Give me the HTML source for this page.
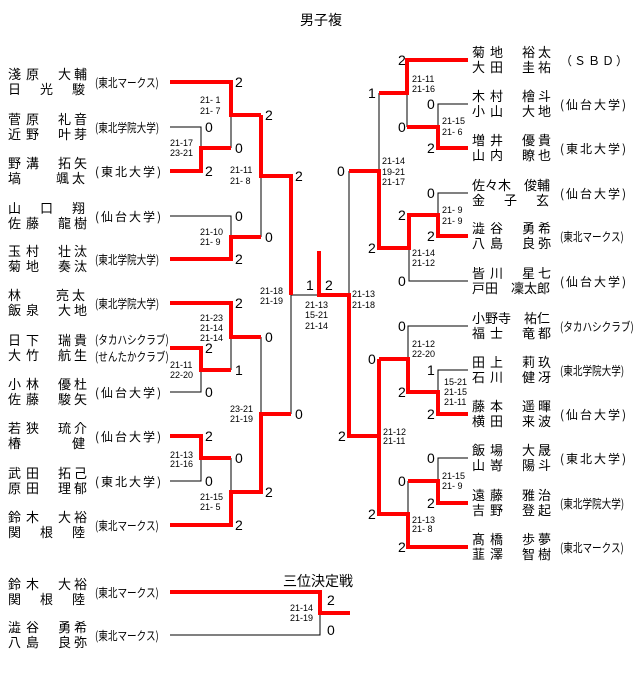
<!DOCTYPE html>
<html><head><meta charset="utf-8"><style>
body{margin:0;background:#fff;width:640px;height:697px;overflow:hidden;position:relative;font-family:"Liberation Sans","Noto Sans CJK JP",sans-serif;}
.n{position:absolute;font-size:13px;line-height:15px;letter-spacing:3px;white-space:pre;color:#000;font-family:"Noto Sans CJK JP",sans-serif;}
.n>b,.n span>b{font-weight:normal;margin-right:2px;}
.t{position:absolute;font-size:12px;line-height:13px;white-space:pre;color:#000;transform-origin:0 50%;font-family:"Noto Sans CJK JP",sans-serif;}
.s{transform:scaleX(.8);font-size:12px;}
.w{letter-spacing:2px;font-size:12px;}
svg{position:absolute;left:0;top:0;}
</style></head><body>
<svg width="640" height="697" xmlns="http://www.w3.org/2000/svg">
<g fill="none" stroke="#000" stroke-width="1">
<polyline points="170,127 201,127 201,148"/>
<polyline points="231,115 231,148"/>
<polyline points="170,216 231,216 231,237"/>
<polyline points="261,176 261,237"/>
<polyline points="291,295 319,295"/>
<polyline points="349,171 349,295"/>
<polyline points="291,295 291,414"/>
<polyline points="231,337 231,370"/>
<polyline points="201,370 201,392 170,392"/>
<polyline points="261,337 261,414"/>
<polyline points="231,458 231,492"/>
<polyline points="201,458 201,481 170,481"/>
<polyline points="407,93 407,127"/>
<polyline points="468,104 438,104 438,127"/>
<polyline points="379,93 379,171"/>
<polyline points="468,193 438,193 438,215"/>
<polyline points="409,248 409,281 468,281"/>
<polyline points="468,326 408,326 408,359"/>
<polyline points="468,370 438,370 438,392"/>
<polyline points="408,481 408,514"/>
<polyline points="468,458 438,458 438,481"/>
<polyline points="170,635 320,635 320,613"/>
</g>
<g fill="none" stroke="#f00" stroke-width="4" stroke-linejoin="miter">
<polyline points="170,171 201,171 201,148 231,148"/>
<polyline points="170,82 231,82 231,115 261,115"/>
<polyline points="170,259 231,259 231,237 261,237"/>
<polyline points="261,115 261,176 291,176 291,295"/>
<polyline points="319,251 319,295 349,295 349,436 379,436"/>
<polyline points="170,303 231,303 231,337 261,337"/>
<polyline points="170,348 201,348 201,370 231,370"/>
<polyline points="291,414 261,414 261,492 231,492 231,525 170,525"/>
<polyline points="170,436 201,436 201,458 231,458"/>
<polyline points="468,60 407,60 407,93 379,93"/>
<polyline points="468,148 438,148 438,127 407,127"/>
<polyline points="349,171 379,171 379,248 409,248 409,215 438,215 438,236 468,236"/>
<polyline points="379,359 408,359 408,392 438,392 438,414 468,414"/>
<polyline points="379,359 379,514 408,514 408,547 468,547"/>
<polyline points="408,481 438,481 438,503 468,503"/>
<polyline points="170,592 320,592 320,613 350,613"/>
</g>
<g font-family="Liberation Sans, sans-serif" font-size="14" fill="#000">
<text x="235" y="87">2</text><text x="205" y="132">0</text><text x="205" y="176">2</text><text x="235" y="153">0</text>
<text x="265" y="120">2</text><text x="235" y="221">0</text><text x="235" y="264">2</text><text x="265" y="242">0</text>
<text x="295" y="181">2</text><text x="306" y="290">1</text><text x="325" y="290">2</text>
<text x="235" y="308">2</text><text x="265" y="342">0</text><text x="205" y="353">2</text><text x="235" y="375">1</text>
<text x="205" y="397">0</text><text x="295" y="419">0</text><text x="205" y="441">2</text><text x="235" y="463">0</text>
<text x="205" y="486">0</text><text x="265" y="497">2</text><text x="235" y="530">2</text>
<text x="398" y="65">2</text><text x="368" y="98">1</text><text x="427" y="109">0</text><text x="398" y="132">0</text>
<text x="427" y="153">2</text><text x="337" y="176">0</text><text x="427" y="198">0</text><text x="398" y="220">2</text>
<text x="427" y="241">2</text><text x="368" y="253">2</text><text x="398" y="286">0</text>
<text x="398" y="331">0</text><text x="368" y="364">0</text><text x="427" y="375">1</text><text x="398" y="397">2</text>
<text x="427" y="419">2</text><text x="338" y="441">2</text><text x="427" y="463">0</text><text x="398" y="486">0</text>
<text x="427" y="508">2</text><text x="368" y="519">2</text><text x="398" y="552">2</text>
<text x="327" y="605">2</text><text x="327" y="635">0</text>
</g>
<g font-family="Liberation Sans, sans-serif" font-size="9" fill="#000" xml:space="preserve">
<text x="200" y="103">21- 1</text><text x="200" y="114">21- 7</text>
<text x="170" y="146">21-17</text><text x="170" y="156">23-21</text>
<text x="230" y="173">21-11</text><text x="230" y="184">21- 8</text>
<text x="200" y="235">21-10</text><text x="200" y="245">21- 9</text>
<text x="260" y="294">21-18</text><text x="260" y="304">21-19</text>
<text x="305" y="308">21-13</text><text x="305" y="318">15-21</text><text x="305" y="329">21-14</text>
<text x="200" y="321">21-23</text><text x="200" y="331">21-14</text><text x="200" y="341">21-14</text>
<text x="170" y="368">21-11</text><text x="170" y="378">22-20</text>
<text x="230" y="412">23-21</text><text x="230" y="422">21-19</text>
<text x="170" y="458">21-13</text><text x="170" y="467">21-16</text>
<text x="200" y="500">21-15</text><text x="200" y="510">21- 5</text>
<text x="412" y="82">21-11</text><text x="412" y="92">21-16</text>
<text x="442" y="124">21-15</text><text x="442" y="135">21- 6</text>
<text x="382" y="164">21-14</text><text x="382" y="175">19-21</text><text x="382" y="185">21-17</text>
<text x="442" y="213">21- 9</text><text x="442" y="224">21- 9</text>
<text x="412" y="256">21-14</text><text x="412" y="266">21-12</text>
<text x="352" y="297">21-13</text><text x="352" y="308">21-18</text>
<text x="412" y="347">21-12</text><text x="412" y="357">22-20</text>
<text x="444" y="385">15-21</text><text x="444" y="395">21-15</text><text x="444" y="405">21-11</text>
<text x="383" y="435">21-12</text><text x="383" y="444">21-11</text>
<text x="442" y="479">21-15</text><text x="442" y="489">21- 9</text>
<text x="412" y="523">21-13</text><text x="412" y="532">21- 8</text>
<text x="290" y="611">21-14</text><text x="290" y="621">21-19</text>
</g>
<text x="300" y="25" font-family="Liberation Sans, Noto Sans CJK JP, sans-serif" font-size="14">男子複</text>
<text x="283" y="586" font-family="Liberation Sans, Noto Sans CJK JP, sans-serif" font-size="14">三位決定戦</text>
</svg>

<div class="n" style="left:8px;top:66px"><b>淺</b>原　大輔<br>日　光　駿</div><div class="t s" style="left:95px;top:76px">(東北マークス)</div>
<div class="n" style="left:8px;top:111px"><b>菅</b>原　礼音<br><b>近</b>野　叶芽</div><div class="t s" style="left:95px;top:121px">(東北学院大学)</div>
<div class="n" style="left:8px;top:155px"><b>野</b>溝　拓矢<br>塙　　颯太</div><div class="t w" style="left:95px;top:165px">(東北大学)</div>
<div class="n" style="left:8px;top:200px">山　口　翔<br><b>佐</b>藤　龍樹</div><div class="t w" style="left:95px;top:210px">(仙台大学)</div>
<div class="n" style="left:8px;top:243px"><b>玉</b>村　壮汰<br><b>菊</b>地　奏汰</div><div class="t s" style="left:95px;top:253px">(東北学院大学)</div>
<div class="n" style="left:8px;top:287px">林　　亮太<br><b>飯</b>泉　大地</div><div class="t s" style="left:95px;top:297px">(東北学院大学)</div>
<div class="n" style="left:8px;top:332px"><b>日</b>下　瑞貴<br><b>大</b>竹　航生</div><div class="t s" style="left:95px;top:333px">(タカハシクラブ)</div><div class="t s" style="left:95px;top:350px">(せんたかクラブ)</div>
<div class="n" style="left:8px;top:376px"><b>小</b>林　優杜<br><b>佐</b>藤　駿矢</div><div class="t w" style="left:95px;top:386px">(仙台大学)</div>
<div class="n" style="left:8px;top:420px"><b>若</b>狭　琉介<br>椿　　　健</div><div class="t w" style="left:95px;top:430px">(仙台大学)</div>
<div class="n" style="left:8px;top:465px"><b>武</b>田　拓己<br><b>原</b>田　理郁</div><div class="t w" style="left:95px;top:475px">(東北大学)</div>
<div class="n" style="left:8px;top:509px"><b>鈴</b>木　大裕<br>関　根　陸</div><div class="t s" style="left:95px;top:519px">(東北マークス)</div>
<div class="n" style="left:8px;top:576px"><b>鈴</b>木　大裕<br>関　根　陸</div><div class="t s" style="left:95px;top:586px">(東北マークス)</div>
<div class="n" style="left:8px;top:619px"><b>澁</b>谷　勇希<br><b>八</b>島　良弥</div><div class="t s" style="left:95px;top:629px">(東北マークス)</div>

<div class="n" style="left:472px;top:44px"><b>菊</b>地　裕太<br><b>大</b>田　圭祐</div><div class="t" style="left:560px;top:54px;letter-spacing:2px">（ＳＢＤ）</div>
<div class="n" style="left:472px;top:88px"><b>木</b>村　檜斗<br><b>小</b>山　大地</div><div class="t w" style="left:560px;top:98px">(仙台大学)</div>
<div class="n" style="left:472px;top:132px"><b>増</b>井　優貴<br><b>山</b>内　瞭也</div><div class="t w" style="left:560px;top:142px">(東北大学)</div>
<div class="n" style="left:472px;top:177px"><span style="letter-spacing:0">佐々木　俊輔</span><br>金　子　玄</div><div class="t w" style="left:560px;top:187px">(仙台大学)</div>
<div class="n" style="left:472px;top:220px"><b>澁</b>谷　勇希<br><b>八</b>島　良弥</div><div class="t s" style="left:560px;top:230px">(東北マークス)</div>
<div class="n" style="left:472px;top:265px"><b>皆</b>川　星七<br><span style="letter-spacing:0">戸田　凜太郎</span></div><div class="t w" style="left:560px;top:275px">(仙台大学)</div>
<div class="n" style="left:472px;top:310px"><span style="letter-spacing:0">小野寺　祐仁</span><br><b>福</b>士　竜都</div><div class="t s" style="left:560px;top:320px">(タカハシクラブ)</div>
<div class="n" style="left:472px;top:354px"><b>田</b>上　莉玖<br><b>石</b>川　健冴</div><div class="t s" style="left:560px;top:364px">(東北学院大学)</div>
<div class="n" style="left:472px;top:398px"><b>藤</b>本　遥暉<br><b>横</b>田　来波</div><div class="t w" style="left:560px;top:408px">(仙台大学)</div>
<div class="n" style="left:472px;top:442px"><b>飯</b>場　大晟<br><b>山</b>嵜　陽斗</div><div class="t w" style="left:560px;top:452px">(東北大学)</div>
<div class="n" style="left:472px;top:487px"><b>遠</b>藤　雅治<br><b>吉</b>野　登起</div><div class="t s" style="left:560px;top:497px">(東北学院大学)</div>
<div class="n" style="left:472px;top:531px"><b>髙</b>橋　歩夢<br><b>韮</b>澤　智樹</div><div class="t s" style="left:560px;top:541px">(東北マークス)</div>
</body></html>
